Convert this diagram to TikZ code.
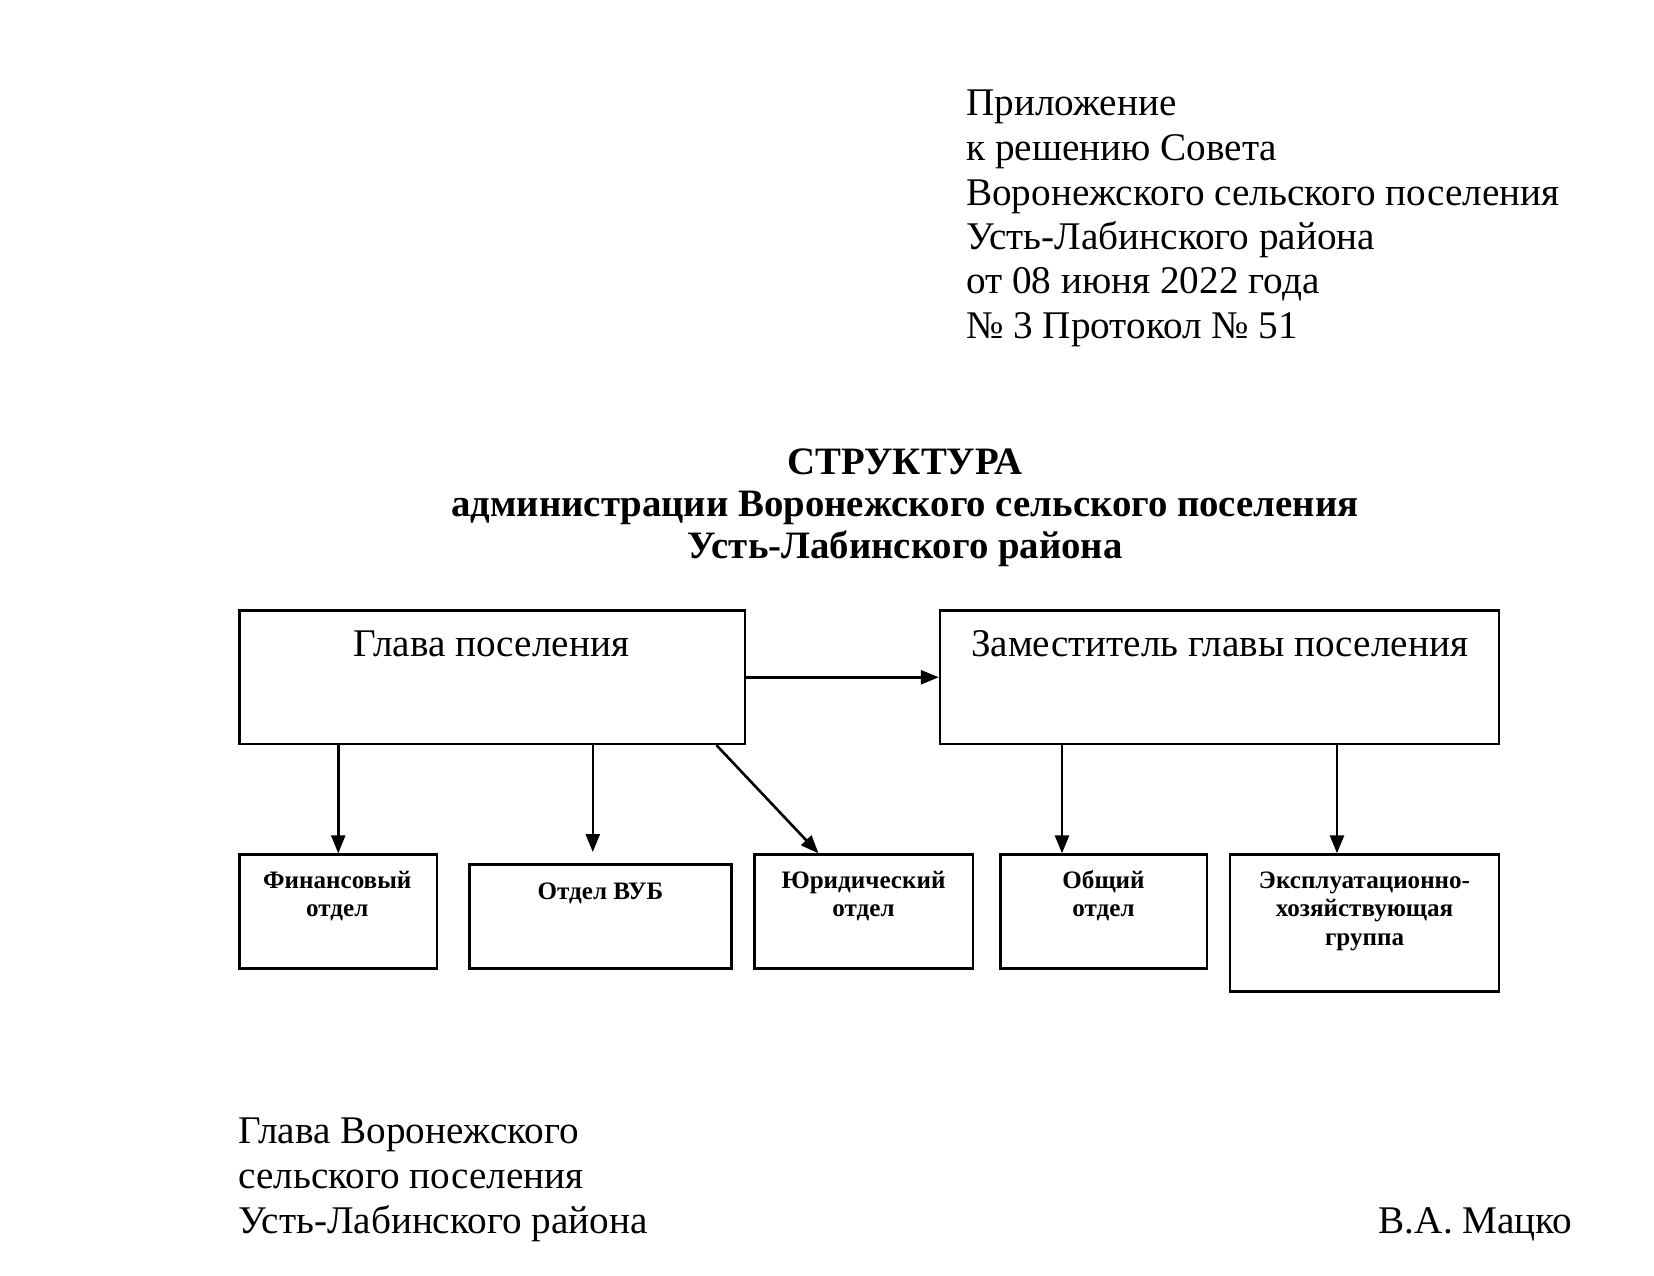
\documentclass[tikz,border=0pt]{standalone}
\usepackage{fontspec}
\setmainfont{Liberation Serif}
\usetikzlibrary{arrows.meta,calc}
\tikzset{
  box/.style={draw, line width=2.5pt, rectangle, inner sep=0pt, anchor=north west},
  txt/.style={inner sep=0pt, font=\fontsize{39.2pt}{44.6pt}\selectfont},
  ttl/.style={inner sep=0pt, anchor=base, font=\fontsize{38.8pt}{44.6pt}\selectfont\bfseries},
  btxt/.style={inner sep=0pt, anchor=base, font=\fontsize{25.1pt}{28.3pt}\selectfont\bfseries},
  arr/.style={line width=2.6pt, -{Triangle[length=18pt,width=14pt]}},
}
\begin{document}
\begin{tikzpicture}[x=1pt,y=-1pt]
\useasboundingbox (0,0) rectangle (1654,1275);
% header
\node[txt,anchor=base west] (h1) at (966,115) {Приложение};
\node[txt,anchor=base west] (h2) at (966,160) {к решению Совета};
\node[txt,anchor=base west] (h3) at (966,205) {Воронежского сельского поселения};
\node[txt,anchor=base west] (h4) at (966,249) {Усть-Лабинского района};
\node[txt,anchor=base west] (h5) at (966,293) {от 08 июня 2022 года};
\node[txt,anchor=base west] (h6) at (966,338) {№ 3 Протокол № 51};
% title
\node[ttl] (t1) at (905,474) {СТРУКТУРА};
\node[ttl] (t2) at (905,516) {администрации Воронежского сельского поселения};
\node[ttl] (t3) at (905,558) {Усть-Лабинского района};
% boxes
\node[box, minimum width=505.2pt, minimum height=133.4pt] (glava) at (238.4,609.3) {};
\node[box, minimum width=559pt, minimum height=133.4pt] (zam) at (938.8,609.3) {};
\node[box, minimum width=197.2pt, minimum height=114pt] (fin) at (238.4,853.3) {};
\node[box, minimum width=261.7pt, minimum height=104pt] (vub) at (468.3,863.3) {};
\node[box, minimum width=218.5pt, minimum height=114pt] (yur) at (753,853.3) {};
\node[box, minimum width=206.6pt, minimum height=114pt] (obsh) at (999,853.3) {};
\node[box, minimum width=269pt, minimum height=136.7pt] (expl) at (1228.8,853.3) {};
% box texts
\node[txt,anchor=base] (glavaT) at ($(glava.north)+(-1,46.7)$) {Глава поселения};
\node[txt,anchor=base] (zamT) at ($(zam.north)+(0,46.7)$) {Заместитель главы поселения};
\node[btxt] (finT1) at ($(fin.north)+(-1,35)$) {Финансовый};
\node[btxt] (finT2) at ($(fin.north)+(-1,63.3)$) {отдел};
\node[btxt] (vubT) at ($(vub.north)+(0,35.7)$) {Отдел ВУБ};
\node[btxt] (yurT1) at ($(yur.north)+(0,35)$) {Юридический};
\node[btxt] (yurT2) at ($(yur.north)+(0,63.3)$) {отдел};
\node[btxt] (obshT1) at ($(obsh.north)+(0,35)$) {Общий};
\node[btxt] (obshT2) at ($(obsh.north)+(0,63.3)$) {отдел};
\node[btxt] (explT1) at ($(expl.north)+(0,35)$) {Эксплуатационно-};
\node[btxt] (explT2) at ($(expl.north)+(0,63.3)$) {хозяйствующая};
\node[btxt] (explT3) at ($(expl.north)+(0,91.8)$) {группа};
% arrows
\coordinate (vubtip) at (592.8,852);
\coordinate (obshtip) at ($(obsh.north west)+(63,0)$);
\coordinate (expltip) at ($(expl.north west)+(108.2,0)$);
\draw[arr] (glava.east) -- (zam.west);
\draw[arr] (fin.north |- glava.south) -- (fin.north);
\draw[arr] (vubtip |- glava.south) -- (vubtip);
\draw[arr] ($(glava.south east)+(-29.6,0)$) -- ($(yur.north west)+(65.5,0)$);
\draw[arr] (obshtip |- zam.south) -- (obshtip);
\draw[arr] (expltip |- zam.south) -- (expltip);
% signature
\node[txt,anchor=base west] (s1) at (238.4,1143) {Глава Воронежского};
\node[txt,anchor=base west] (s2) at (238.4,1188) {сельского поселения};
\node[txt,anchor=base west] (s3) at (238.4,1233) {Усть-Лабинского района};
\node[txt,anchor=base east] (s4) at (1572.7,1233) {В.А. Мацко};
\end{tikzpicture}
\end{document}
